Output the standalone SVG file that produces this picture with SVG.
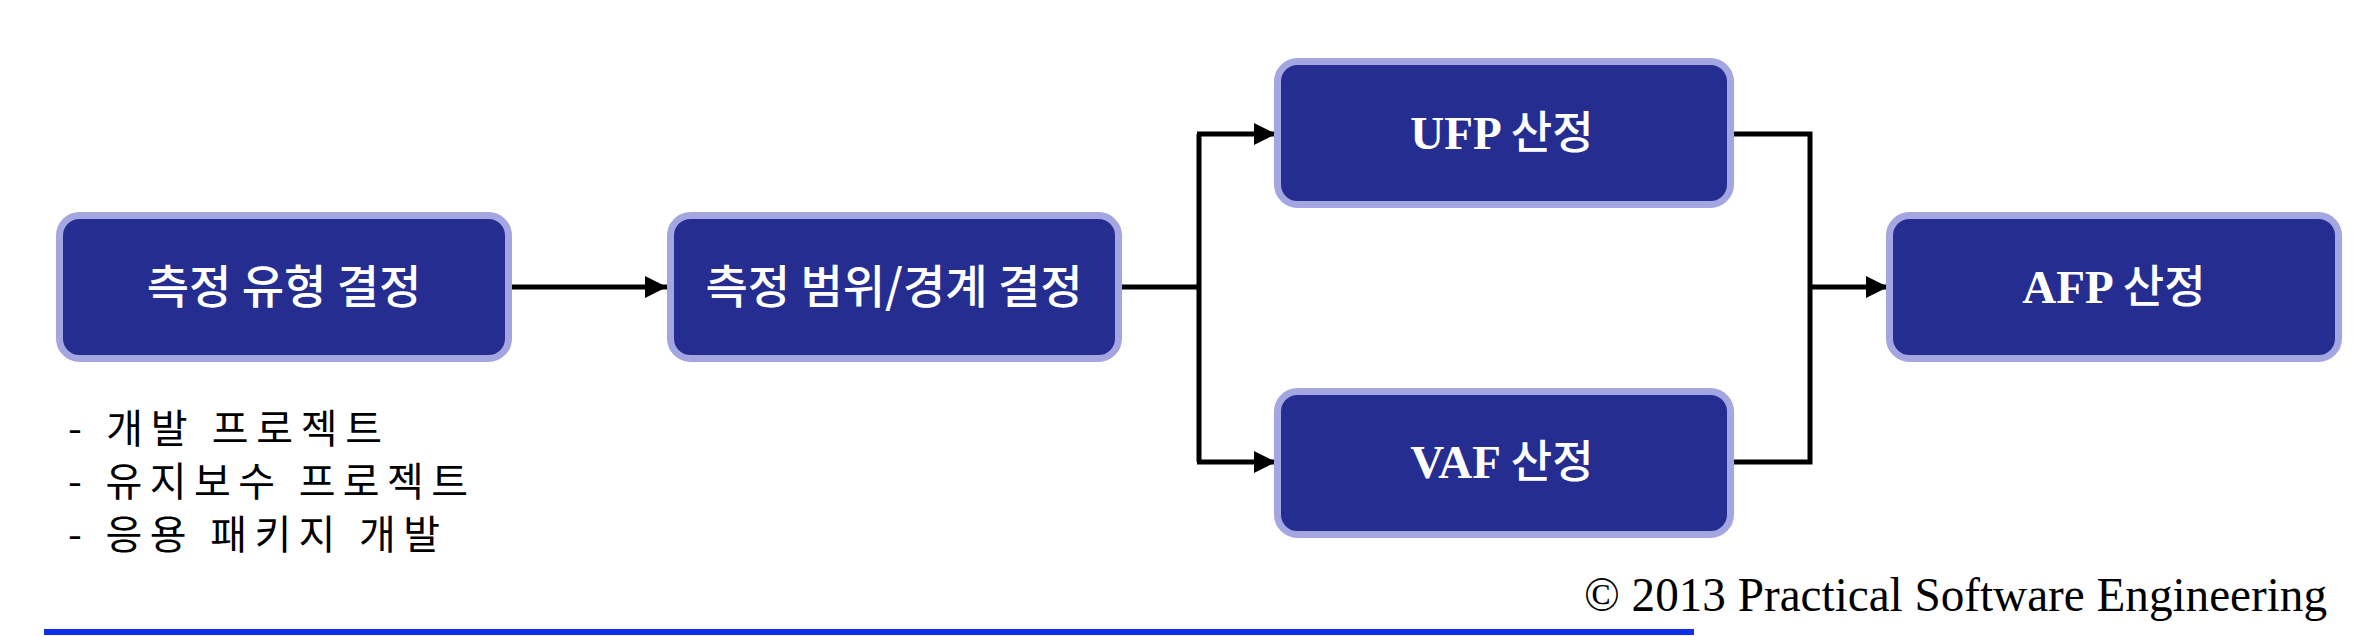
<svg xmlns="http://www.w3.org/2000/svg" width="2376" height="636" viewBox="0 0 2376 636">
<style>
.box{fill:#252D91;stroke:#A3A6E0;stroke-width:7}
.kt{font-family:"Noto Sans CJK KR","Noto Sans",sans-serif;font-size:46px;font-weight:500;fill:#fff;text-anchor:middle}
.lt{font-family:"Liberation Serif","Noto Sans CJK KR",serif;font-weight:bold;font-size:47px}
.ht{font-family:"Noto Sans CJK KR",sans-serif;font-weight:500;font-size:45px}
.con{fill:none;stroke:#000;stroke-width:5}
.list{font-family:"Noto Sans CJK KR",sans-serif;font-size:40px;fill:#000}
.copy{font-family:"Liberation Serif",serif;font-size:48px;fill:#000}
</style>
<defs>
<marker id="ah" markerUnits="userSpaceOnUse" markerWidth="22" markerHeight="22" refX="22" refY="11" orient="auto">
<path d="M0,0 L22,11 L0,22 Z" fill="#000"/>
</marker>
</defs>
<g id="connectors">
<line class="con" x1="512" y1="287" x2="667" y2="287" marker-end="url(#ah)"/>
<path class="con" d="M1122,287 H1199"/>
<path class="con" d="M1199,134 V462"/>
<line class="con" x1="1197" y1="134" x2="1276" y2="134" marker-end="url(#ah)"/>
<line class="con" x1="1197" y1="462" x2="1276" y2="462" marker-end="url(#ah)"/>
<path class="con" d="M1734,134 H1810 V462 H1734"/>
<line class="con" x1="1810" y1="287" x2="1888" y2="287" marker-end="url(#ah)"/>
</g>
<g id="n1">
<rect class="box" x="59.5" y="215.5" width="449" height="143" rx="20"/>
<text class="kt" x="284" y="303">측정 유형 결정</text>
</g>
<g id="n2">
<rect class="box" x="670.5" y="215.5" width="448" height="143" rx="20"/>
<text class="kt" x="894" y="303">측정 범위/경계 결정</text>
</g>
<g id="n3">
<rect class="box" x="1277.5" y="61.5" width="453" height="143" rx="20"/>
<text x="1502" y="149" fill="#fff" text-anchor="middle"><tspan class="lt">UFP </tspan><tspan class="ht">산정</tspan></text>
</g>
<g id="n4">
<rect class="box" x="1277.5" y="391.5" width="453" height="143" rx="20"/>
<text x="1502" y="478" fill="#fff" text-anchor="middle"><tspan class="lt">VAF </tspan><tspan class="ht">산정</tspan></text>
</g>
<g id="n5">
<rect class="box" x="1889.5" y="215.5" width="449" height="143" rx="20"/>
<text x="2114" y="303" fill="#fff" text-anchor="middle"><tspan class="lt">AFP </tspan><tspan class="ht">산정</tspan></text>
</g>
<g id="notes">
<text class="list" x="68" y="443" textLength="314" lengthAdjust="spacing">- 개발 프로젝트</text>
<text class="list" x="68" y="496" textLength="400" lengthAdjust="spacing">- 유지보수 프로젝트</text>
<text class="list" x="68" y="549" textLength="372" lengthAdjust="spacing">- 응용 패키지 개발</text>
</g>
<g id="footer">
<text class="copy" x="1584" y="611" textLength="743" lengthAdjust="spacingAndGlyphs">© 2013 Practical Software Engineering</text>
<line x1="44" y1="632" x2="1694" y2="632" stroke="#1030F0" stroke-width="6"/>
</g>
</svg>
